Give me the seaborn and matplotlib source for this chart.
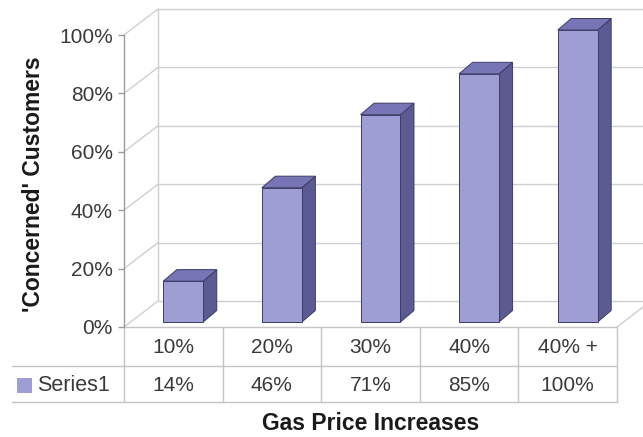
import matplotlib
matplotlib.use("Agg")
import matplotlib.pyplot as plt
from matplotlib.patches import Polygon, Rectangle
import pandas as pd
import seaborn as sns

# Data
categories = ["10%", "20%", "30%", "40%", "40% +"]
concerned = [14, 46, 71, 85, 100]
series_name = "Series1"
value_labels = ["14%", "46%", "71%", "85%", "100%"]
y_ticks = [0, 20, 40, 60, 80, 100]

df = pd.DataFrame({"increase": categories, "concerned": concerned})

sns.set_theme(style="white")
plt.rcParams["font.family"] = ["Liberation Sans", "DejaVu Sans"]

FRONT = "#9e9ed4"
SIDE = "#5b5b93"
TOP = "#7676b6"
EDGE = "#3c3c66"
GRID = "#cfcfcf"
TABLE = "#c4c4c4"
TEXT = "#3a3a3a"

W, H = 643, 437
fig = plt.figure(figsize=(W / 100, H / 100), dpi=100)
fig.patch.set_facecolor("white")

# Front plane of the 3-D box, in pixels
left_px, right_px, zero_px, top_px = 124, 617, 327, 35
ax = fig.add_axes([left_px / W, (H - zero_px) / H,
                   (right_px - left_px) / W, (zero_px - top_px) / H])
ax.set_xlim(-0.5, 4.5)
ax.set_ylim(0, 100)
ax.set_facecolor("none")

px_x = (right_px - left_px) / 5.0     # pixels per category
px_y = (zero_px - top_px) / 100.0     # pixels per percent

# Depth of the box (walls) and of the bars, in data units
wall_dx, wall_dy = 34 / px_x, 26 / px_y
bar_dx, bar_dy = 13.5 / px_x, 11.5 / px_y
bar_shift_x, bar_base = 10 / px_x, 5 / px_y

x0, x1 = -0.5, 4.5

# Left side wall and back wall gridlines
for t in y_ticks:
    ax.plot([x0, x0 + wall_dx], [t, t + wall_dy], color=GRID, lw=1.0,
            clip_on=False, zorder=0)
    ax.plot([x0 + wall_dx, x1 + wall_dx], [t + wall_dy, t + wall_dy],
            color=GRID, lw=1.0, clip_on=False, zorder=0)
ax.plot([x0 + wall_dx, x0 + wall_dx], [wall_dy, 100 + wall_dy], color=GRID,
        lw=1.0, clip_on=False, zorder=0)
# Floor right edge
ax.plot([x1, x1 + wall_dx], [0, wall_dy], color=GRID, lw=1.0,
        clip_on=False, zorder=0)

# Bars (front faces)
sns.barplot(data=df, x="increase", y="concerned", ax=ax, color=FRONT,
            saturation=1, width=0.405, edgecolor=EDGE, linewidth=0.7,
            zorder=3)
ax.set_xlim(-0.5, 4.5)
ax.set_ylim(0, 100)

for p in list(ax.patches):
    p.set_x(p.get_x() + bar_shift_x)
    p.set_y(bar_base)
    xl = p.get_x()
    xr = xl + p.get_width()
    b = bar_base
    t = bar_base + p.get_height()
    side = Polygon([(xr, b), (xr + bar_dx, b + bar_dy),
                    (xr + bar_dx, t + bar_dy), (xr, t)],
                   closed=True, facecolor=SIDE, edgecolor=EDGE, lw=0.7,
                   zorder=2, clip_on=False)
    top = Polygon([(xl, t), (xl + bar_dx, t + bar_dy),
                   (xr + bar_dx, t + bar_dy), (xr, t)],
                  closed=True, facecolor=TOP, edgecolor=EDGE, lw=0.7,
                  zorder=2, clip_on=False)
    ax.add_patch(side)
    ax.add_patch(top)
    p.set_clip_on(False)

# Axis styling
for s in ["top", "right", "bottom"]:
    ax.spines[s].set_visible(False)
ax.spines["left"].set_color("#9a9a9a")
ax.spines["left"].set_linewidth(1.0)
ax.set_yticks(y_ticks)
ax.set_yticklabels([f"{t}%" for t in y_ticks])
ax.tick_params(axis="y", left=True, length=4, width=1.0, color="#9a9a9a",
               pad=4, labelsize=15, labelcolor=TEXT)
ax.tick_params(axis="x", bottom=False, labelbottom=False)
ax.set_xlabel("")
ax.set_ylabel("")

# Data table below the plot
row1 = -(366 - zero_px) / px_y
row2 = -(402 - zero_px) / px_y
table_left = x0 - (left_px - 12) / px_x
ax.plot([x0, x1], [0, 0], color=TABLE, lw=1.0, clip_on=False, zorder=1)
for yy in (row1, row2):
    ax.plot([table_left, x1], [yy, yy], color=TABLE, lw=1.0, clip_on=False)
for k in range(6):
    ax.plot([x0 + k, x0 + k], [0, row2], color=TABLE, lw=1.0, clip_on=False)

for i, (c, v) in enumerate(zip(categories, value_labels)):
    ax.text(i, row1 / 2 - 0.5, c, ha="center", va="center", fontsize=15,
            color=TEXT, clip_on=False)
    ax.text(i, (row1 + row2) / 2 - 0.5, v, ha="center", va="center",
            fontsize=15, color=TEXT, clip_on=False)

# Legend key inside the table
key_x = x0 - (left_px - 17) / px_x
key_w = 15 / px_x
key_h = 15 / px_y
ymid = (row1 + row2) / 2
ax.add_patch(Rectangle((key_x, ymid - key_h / 2 - 0.5), key_w, key_h,
                       facecolor=FRONT, edgecolor="none", clip_on=False))
ax.text(key_x + key_w + 5 / px_x, ymid - 0.5, series_name, ha="left",
        va="center", fontsize=15.5, color=TEXT, clip_on=False)

# Axis titles
fig.text(371 / W, 1 - 423 / H, "Gas Price Increases", ha="center",
         va="center", fontsize=16.5, fontweight="bold", color="#1a1a1a")
fig.text(34 / W, 1 - 184 / H, "'Concerned' Customers", ha="center",
         va="center", rotation=90, fontsize=16.5, fontweight="bold",
         color="#1a1a1a")

fig.savefig("out.png", dpi=100, facecolor="white")
